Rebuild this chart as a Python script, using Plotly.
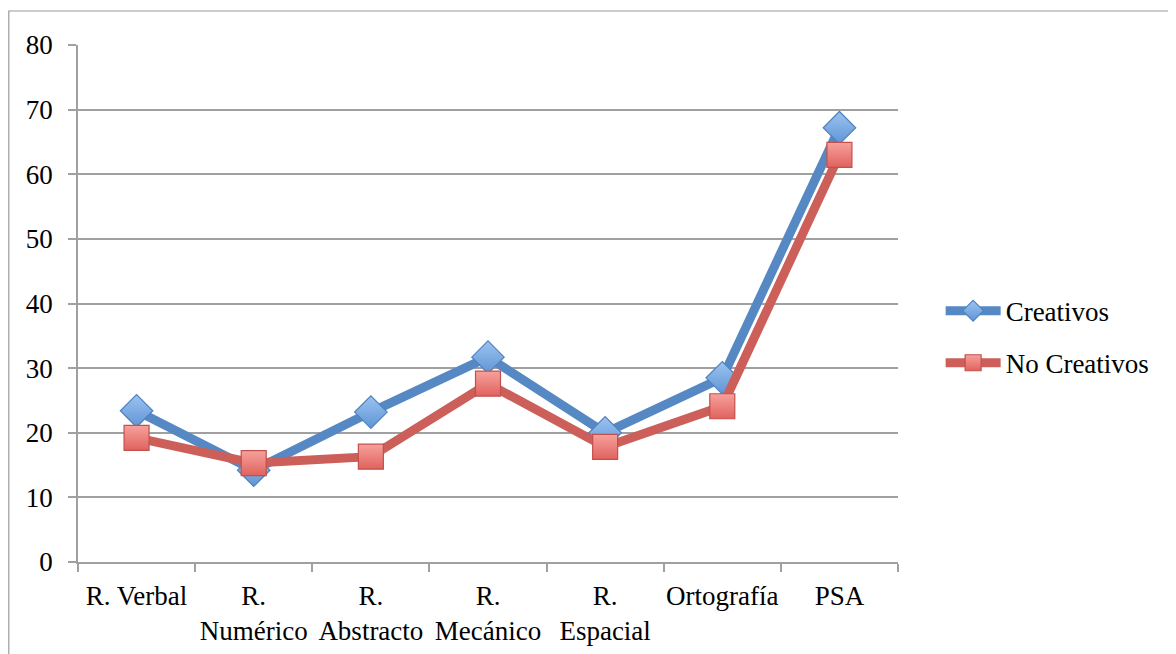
import plotly.graph_objects as go

categories = ["R. Verbal", "R.<br>Numérico", "R.<br>Abstracto", "R.<br>Mecánico",
              "R.<br>Espacial", "Ortografía", "PSA"]
creativos = [23.4, 14.2, 23.2, 31.7, 20.0, 28.5, 67.2]
no_creativos = [19.2, 15.3, 16.3, 27.6, 17.8, 24.1, 63.0]
y_ticks = [0, 10, 20, 30, 40, 50, 60, 70, 80]

FONT = "Liberation Serif"
FS = 27
# page body has an 8px margin, so the figure starts at (8, 8)
W, H = 1168, 646
L, T, R, B = 70, 37, 278, 92
PW, PH = W - L - R, H - T - B

fig = go.Figure()
fig.add_trace(go.Scatter(
    x=categories, y=creativos, name="Creativos", mode="lines+markers",
    legendgroup="a",
    line=dict(color="#5689C4", width=9),
    marker=dict(symbol="diamond", size=25, color="#9CC3F0",
                gradient=dict(type="vertical", color="#5F95D6"),
                line=dict(color="#4F82BF", width=1.2)),
))
fig.add_trace(go.Scatter(
    x=categories, y=no_creativos, name="No Creativos", mode="lines+markers",
    legendgroup="b",
    line=dict(color="#CC5F59", width=9),
    marker=dict(symbol="square", size=25, color="#F7A19D",
                gradient=dict(type="vertical", color="#E0625D"),
                line=dict(color="#C2504C", width=1.2)),
))

fig.update_layout(
    width=W, height=H,
    margin=dict(l=L, r=R, t=T, b=B, autoexpand=False),
    paper_bgcolor="white", plot_bgcolor="white",
    font=dict(family=FONT, size=FS, color="black"),
    showlegend=True,
    legend=dict(x=1.052, y=0.435, xanchor="left", yanchor="middle",
                font=dict(family=FONT, size=FS), itemwidth=55,
                tracegroupgap=14, bgcolor="rgba(0,0,0,0)"),
    shapes=[dict(type="rect", xref="paper", yref="paper",
                 x0=(0.8 - L) / PW, x1=(W + 10 - L) / PW,
                 y0=(T + PH - (H + 10)) / PH, y1=(T + PH - 3) / PH,
                 line=dict(color="#999999", width=1.2), layer="below")],
)
fig.update_xaxes(
    type="category", showgrid=False, showline=True, linecolor="#A0A0A0", linewidth=1.5,
    ticks="outside", tickson="boundaries", ticklen=8, tickcolor="#A0A0A0", tickwidth=1.5,
    tickfont=dict(family=FONT, size=FS), range=[-0.5, 6.5], ticklabelstandoff=9,
    tickangle=0, automargin=False,
)
fig.update_yaxes(
    range=[0, 80], tickvals=y_ticks, showgrid=True, gridcolor="#A0A0A0", gridwidth=1.5,
    showline=True, linecolor="#A0A0A0", linewidth=1.5, zeroline=False,
    ticks="outside", ticklen=8, tickcolor="#A0A0A0", tickwidth=1.5,
    tickfont=dict(family=FONT, size=FS), ticklabelstandoff=10, automargin=False,
)
fig.write_html("out.html")
